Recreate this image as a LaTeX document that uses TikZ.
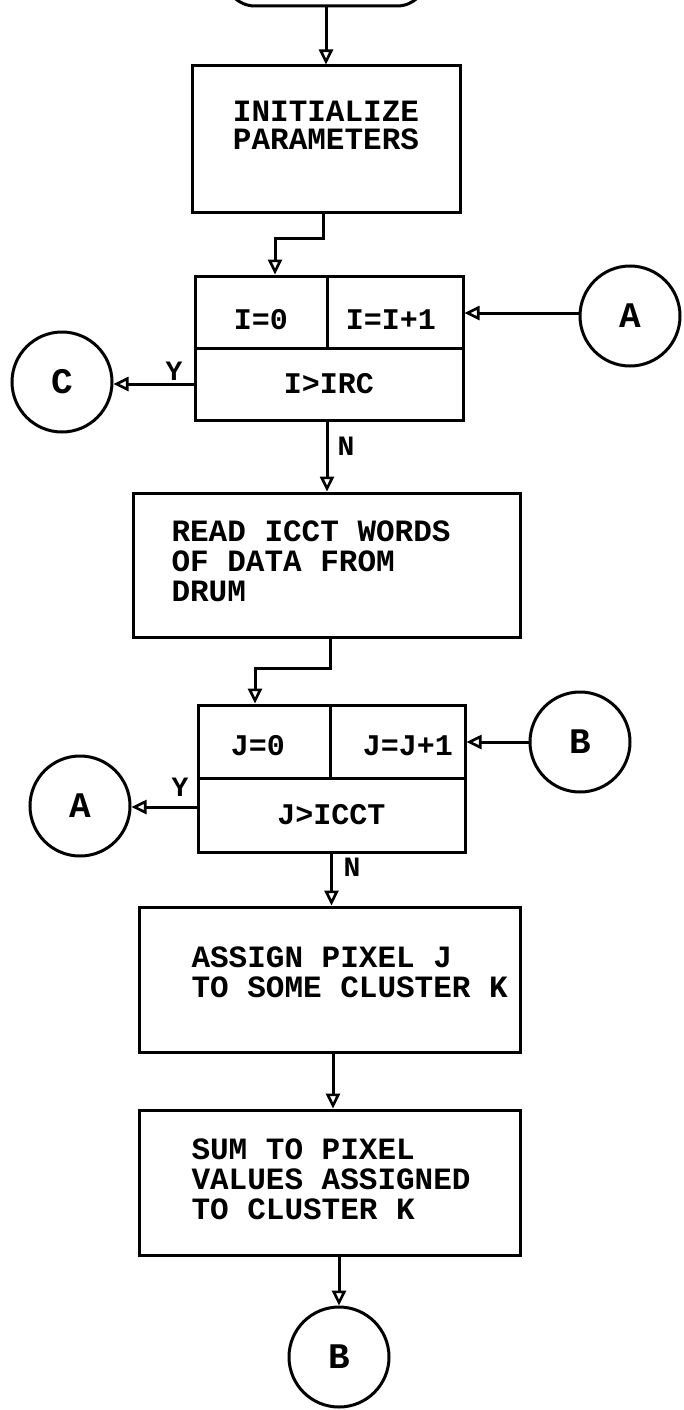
\documentclass[tikz,border=0pt]{standalone}
\usepackage{fontspec}
\setmainfont{Liberation Mono}
\usetikzlibrary{arrows.meta,calc}
\begin{document}
\begin{tikzpicture}[x=1pt,y=-1pt,
  line width=3pt,
  box/.style={draw, rectangle, inner sep=0pt, line width=3pt},
  cell/.style={box, font=\fontsize{30}{30}\selectfont\bfseries},
  txt/.style={inner sep=0pt, align=left, font=\fontsize{31}{30}\selectfont\bfseries},
  conn/.style={draw, circle, minimum size=100pt, inner sep=0pt, line width=3pt,
    font=\fontsize{36}{36}\selectfont\bfseries},
  arr/.style={-{Triangle[open,length=15pt,width=14pt,line width=2.6pt]}},
  lbl/.style={inner sep=0pt, font=\fontsize{28}{28}\selectfont\bfseries}
]
\path[use as bounding box] (0,0) rectangle (684,1410);
\fill[white] (0,0) rectangle (684,1410);

% partial terminal at top
\begin{scope}
  \clip (0,0) rectangle (684,1410);
  \node[draw, rounded corners=30pt, minimum width=202pt, minimum height=70pt, inner sep=0pt] (start) at (326,-29) {};
\end{scope}

% boxes
\node[box, minimum width=268pt, minimum height=146pt] (init) at (326,139) {};
\node[inner sep=0pt, align=center, font=\fontsize{31}{28}\selectfont\bfseries] at (326,125) {INITIALIZE\\PARAMETERS};

\node[cell, minimum width=132pt, minimum height=72pt] (i0) at (261,312) {};
\node[cell, minimum width=136pt, minimum height=72pt] (iinc) at (395,312) {};
\node[cell, minimum width=268pt, minimum height=72pt] (itest) at (329,384) {I>IRC};
\node[lbl, font=\fontsize{30}{30}\selectfont\bfseries] at (261,320) {I=0};
\node[lbl, font=\fontsize{30}{30}\selectfont\bfseries] at (391,320) {I=I+1};

\node[box, minimum width=387pt, minimum height=144pt] (read) at (326.5,565) {};
\node[txt, anchor=west] at (170,561) {READ ICCT WORDS\\OF DATA FROM\\DRUM};

\node[cell, minimum width=132pt, minimum height=73pt] (j0) at (264,741.5) {};
\node[cell, minimum width=135pt, minimum height=73pt] (jinc) at (397.5,741.5) {};
\node[cell, minimum width=267pt, minimum height=74pt] (jtest) at (331.5,815) {J>ICCT};
\node[lbl, font=\fontsize{30}{30}\selectfont\bfseries] at (258,746) {J=0};
\node[lbl, font=\fontsize{30}{30}\selectfont\bfseries] at (408,746) {J=J+1};

\node[box, minimum width=381pt, minimum height=145pt] (assign) at (329.5,979.5) {};
\node[txt, anchor=west] at (190,972) {ASSIGN PIXEL J\\TO SOME CLUSTER K};

\node[box, minimum width=381pt, minimum height=145pt] (sum) at (329.5,1182.5) {};
\node[txt, anchor=west] at (190,1179) {SUM TO PIXEL\\VALUES ASSIGNED\\TO CLUSTER K};

% connectors (circles)
\node[conn] (Ar) at (630,316) {A};
\node[conn] (C) at (62,382) {C};
\node[conn] (Br) at (580,742) {B};
\node[conn] (Al) at (80,806) {A};
\node[conn] (Bb) at (339,1357) {B};

% flow lines
\coordinate (k1) at (275,238);
\coordinate (k2) at (255,668);
\draw[arr] (start.south) -- (init.north);
\draw[arr] ([xshift=-3pt]init.south) |- (k1) -- (k1 |- i0.north);
\draw[arr] (Ar.west |- 0,313) -- (iinc.east |- 0,313);
\draw[arr] (itest.west) -- (itest.west -| C.east);
\node[lbl] at (174,371) {Y};
\draw[arr] ([xshift=-2pt]itest.south) -- ([xshift=-2pt]itest.south |- read.north);
\node[lbl] at (346,446) {N};
\draw[arr] ([xshift=3.5pt]read.south) |- (k2) -- (k2 |- j0.north);
\draw[arr] (Br.west) -- (Br.west -| jinc.east);
\draw[arr] ([yshift=8pt]jtest.west) -- ([yshift=8pt]jtest.west -| Al.east);
\node[lbl] at (180,787) {Y};
\draw[arr] (jtest.south) -- (jtest.south |- assign.north);
\node[lbl] at (352,867) {N};
\draw[arr] ([xshift=3.5pt]assign.south) -- ([xshift=3.5pt]sum.north);
\draw[arr] (sum.south -| Bb.north) -- (Bb.north);
\end{tikzpicture}
\end{document}
